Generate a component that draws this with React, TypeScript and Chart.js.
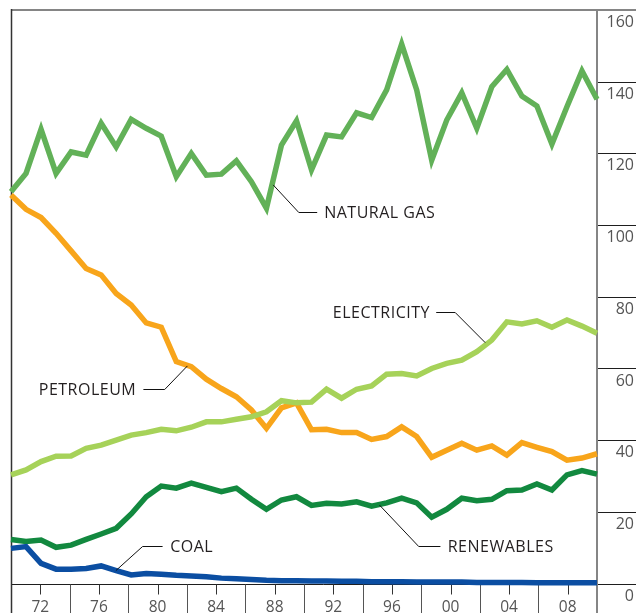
import { useEffect, useRef } from "react";
import { Chart, registerables } from "chart.js";

Chart.register(...registerables);

// ---------- data ----------
const years = [
  1970, 1971, 1972, 1973, 1974, 1975, 1976, 1977, 1978, 1979,
  1980, 1981, 1982, 1983, 1984, 1985, 1986, 1987, 1988, 1989,
  1990, 1991, 1992, 1993, 1994, 1995, 1996, 1997, 1998, 1999,
  2000, 2001, 2002, 2003, 2004, 2005, 2006, 2007, 2008, 2009,
];

const naturalGas = [
  109.3, 114.4, 126.7, 114.4, 120.4, 119.5, 128.4, 121.8, 129.5, 127,
  124.8, 113.5, 120, 113.9, 114.2, 117.9, 112.1, 104.7, 122.3, 129.1,
  115.4, 125.1, 124.6, 131.3, 130, 137.7, 150.5, 137.7, 118.1, 129.3,
  136.9, 127, 138.6, 143.4, 136, 133.2, 122.6, 133, 143, 135.1,
];

const petroleum = [
  108.4, 104.4, 102.1, 97.7, 92.8, 87.9, 86.1, 80.9, 77.7, 72.7,
  71.5, 61.9, 60.5, 57, 54.4, 52.1, 48.4, 43.3, 49, 50.4,
  42.9, 43, 42.1, 42.1, 40.2, 41, 43.7, 41, 35.2, 37.2,
  39.1, 37.2, 38.4, 35.8, 39.3, 38, 36.8, 34.4, 35, 36.2,
];

const electricity = [
  30.3, 31.7, 34, 35.5, 35.6, 37.7, 38.6, 40, 41.4, 42.1,
  43, 42.6, 43.6, 45.1, 45.1, 45.8, 46.5, 47.9, 51, 50.4,
  50.6, 54.2, 51.7, 54.2, 55.1, 58.4, 58.6, 57.9, 60, 61.4,
  62.3, 64.7, 67.9, 73, 72.4, 73.3, 71.5, 73.5, 71.8, 69.8,
];

const renewables = [
  12.3, 11.7, 12.1, 10.1, 10.7, 12.3, 13.8, 15.4, 19.4, 24.2,
  27.2, 26.6, 28, 26.8, 25.6, 26.6, 23.5, 20.7, 23.3, 24.2,
  21.8, 22.4, 22.2, 22.8, 21.6, 22.5, 23.8, 22.5, 18.5, 20.7,
  23.8, 23.1, 23.5, 25.9, 26.1, 27.8, 26.1, 30.3, 31.5, 30.5,
];

const coal = [
  9.8, 10.3, 5.6, 4, 4, 4.2, 4.9, 3.6, 2.4, 2.8,
  2.6, 2.3, 2.1, 1.9, 1.5, 1.3, 1.1, 0.9, 0.8, 0.8,
  0.7, 0.7, 0.6, 0.6, 0.5, 0.5, 0.5, 0.4, 0.4, 0.4,
  0.4, 0.3, 0.3, 0.3, 0.3, 0.2, 0.2, 0.2, 0.2, 0.2,
];

// axis ticks
const yTickValues = [0, 20, 40, 60, 80, 100, 120, 140, 160];
const yTickLabels = ["0", "20", "40", "60", "80", "100", "120", "140", "160"];
const xAxisStart = 1970;
const xAxisEnd = 2010;
const xLabelYears = [1972, 1976, 1980, 1984, 1988, 1992, 1996, 2000, 2004, 2008];
const xLabelTexts = ["72", "76", "80", "84", "88", "92", "96", "00", "04", "08"];
const xSeparatorYears = [1974, 1978, 1982, 1986, 1990, 1994, 1998, 2002, 2006];

// series labels (anchored on the lines)
const labelNames = ["NATURAL GAS", "PETROLEUM", "ELECTRICITY", "COAL", "RENEWABLES"];
const labelYears = [1987.45, 1981.74, 2001.56, 1976.98, 1994.52];
const labelValues = [111.2, 60.7, 67.2, 3.6, 21.9];

// ---------- styles ----------
const COLORS = {
  gas: "#62b158",
  petroleum: "#f8a51b",
  electricity: "#a6d259",
  renewables: "#12893f",
  coal: "#0b4ea2",
};
// leader line geometry for each label: [dx, dy, horizontal length (signed), text gap]
const leaderStyle = [
  [25.6, 26.7, 18.4, 7],
  [-22.7, 23.3, -21.3, 7.7],
  [-30, -30.4, -19, 6.7],
  [26.7, -25, 20, 7.6],
  [39.3, 40.7, 21.7, 7.3],
];

const FONT = '"Open Sans", "Noto Sans", sans-serif';

const framePlugin = {
  id: "frame",
  beforeDatasetsDraw(chart: any) {
    const ctx = chart.ctx;
    const xt = chart.scales.xt;
    const y = chart.scales.y;
    const W = chart.width;
    const H = chart.height;
    const L = Math.round(xt.getPixelForValue(xAxisStart)) + 0.5;
    const R = Math.round(xt.getPixelForValue(xAxisEnd));
    const T = y.getPixelForValue(yTickValues[yTickValues.length - 1]);
    const B = Math.round(y.getPixelForValue(0)) + 0.5;
    ctx.save();

    // right-side gridline stubs
    ctx.strokeStyle = "#1e1e1e";
    ctx.lineWidth = 1;
    for (let i = 1; i < yTickValues.length - 1; i++) {
      const py = Math.round(y.getPixelForValue(yTickValues[i])) + 0.5;
      ctx.beginPath();
      ctx.moveTo(R, py);
      ctx.lineTo(W, py);
      ctx.stroke();
    }
    // bottom axis
    ctx.beginPath();
    ctx.moveTo(L, B);
    ctx.lineTo(W, B);
    ctx.stroke();

    // x ticks
    ctx.strokeStyle = "#333";
    for (const yr of xLabelYears) {
      const px = Math.round(xt.getPixelForValue(yr)) + 0.5;
      ctx.beginPath();
      ctx.moveTo(px, B);
      ctx.lineTo(px, B + 10);
      ctx.stroke();
    }
    ctx.strokeStyle = "#555";
    for (const yr of xSeparatorYears) {
      const px = Math.round(xt.getPixelForValue(yr)) + 0.5;
      ctx.beginPath();
      ctx.moveTo(px, B);
      ctx.lineTo(px, H);
      ctx.stroke();
    }

    // top line
    ctx.strokeStyle = "#858585";
    ctx.lineWidth = 2;
    ctx.beginPath();
    ctx.moveTo(L - 0.5, T);
    ctx.lineTo(W, T);
    ctx.stroke();

    // left line
    ctx.strokeStyle = "#333";
    ctx.lineWidth = 1.5;
    ctx.beginPath();
    ctx.moveTo(L, T - 1);
    ctx.lineTo(L, H);
    ctx.stroke();

    // right axis line
    ctx.strokeStyle = "#858585";
    ctx.lineWidth = 2;
    ctx.beginPath();
    ctx.moveTo(R, T - 1);
    ctx.lineTo(R, H);
    ctx.stroke();

    // y labels
    ctx.fillStyle = "#555";
    ctx.font = `16px ${FONT}`;
    ctx.textAlign = "right";
    ctx.textBaseline = "middle";
    for (let i = 0; i < yTickValues.length; i++) {
      const py = y.getPixelForValue(yTickValues[i]);
      ctx.fillText(yTickLabels[i], W - 2, py + 12.5);
    }

    // x labels
    ctx.font = `15.5px ${FONT}`;
    ctx.textAlign = "center";
    for (let i = 0; i < xLabelYears.length; i++) {
      const px = xt.getPixelForValue(xLabelYears[i]);
      ctx.fillText(xLabelTexts[i], px, B + 23);
    }
    ctx.restore();
  },
  afterDatasetsDraw(chart: any) {
    const ctx = chart.ctx;
    const x = chart.scales.x;
    const y = chart.scales.y;
    ctx.save();
    ctx.strokeStyle = "#111";
    ctx.lineWidth = 1;
    ctx.fillStyle = "#231f20";
    ctx.font = `16px ${FONT}`;
    ctx.textBaseline = "middle";
    try {
      (ctx as any).letterSpacing = "0.5px";
    } catch (e) {
      /* ignore */
    }
    for (let i = 0; i < labelNames.length; i++) {
      const [dx, dy, h, gap] = leaderStyle[i];
      const px = x.getPixelForValue(labelYears[i]);
      const py = y.getPixelForValue(labelValues[i]);
      const ex = px + dx;
      const ey = Math.round(py + dy) + 0.5;
      const hx = ex + h;
      ctx.beginPath();
      ctx.moveTo(px, py);
      ctx.lineTo(ex, ey);
      ctx.lineTo(hx, ey);
      ctx.stroke();
      const dir = h >= 0 ? 1 : -1;
      ctx.textAlign = dir > 0 ? "left" : "right";
      ctx.fillText(labelNames[i], hx + dir * gap + (dir < 0 ? 0.5 : 0), ey + 0.5);
    }
    ctx.restore();
  },
};

function series(values: number[]) {
  return values.map((v, i) => ({ x: years[i], y: v }));
}

export default function App() {
  const ref = useRef<HTMLCanvasElement | null>(null);

  useEffect(() => {
    if (!ref.current) return;
    const ds = (label: string, values: number[], color: string) => ({
      label,
      data: series(values),
      borderColor: color,
      backgroundColor: color,
      borderWidth: 5.5,
      pointRadius: 0,
      tension: 0,
      borderJoinStyle: "miter" as const,
      borderCapStyle: "butt" as const,
      clip: false as any,
      xAxisID: "x",
      yAxisID: "y",
    });
    const chart = new Chart(ref.current, {
      type: "line",
      data: {
        datasets: [
          ds("Coal", coal, COLORS.coal),
          ds("Renewables", renewables, COLORS.renewables),
          ds("Electricity", electricity, COLORS.electricity),
          ds("Petroleum", petroleum, COLORS.petroleum),
          ds("Natural gas", naturalGas, COLORS.gas),
        ],
      },
      options: {
        responsive: false,
        maintainAspectRatio: false,
        animation: false,
        devicePixelRatio: 1,
        layout: { padding: { left: 11, right: 39, top: 10, bottom: 29.5 } },
        plugins: {
          legend: { display: false },
          tooltip: { enabled: false },
        },
        scales: {
          x: {
            type: "linear",
            min: years[0],
            max: years[years.length - 1],
            display: false,
          },
          xt: {
            type: "linear",
            min: xAxisStart,
            max: xAxisEnd,
            display: false,
          },
          y: {
            type: "linear",
            min: yTickValues[0],
            max: yTickValues[yTickValues.length - 1],
            display: false,
          },
        },
      },
      plugins: [framePlugin],
    });
    return () => chart.destroy();
  }, []);

  return (
    <div style={{ position: "fixed", left: 0, top: 0, width: 636, height: 613, background: "#fff" }}>
      <canvas ref={ref} width={636} height={613} style={{ display: "block" }} />
    </div>
  );
}
